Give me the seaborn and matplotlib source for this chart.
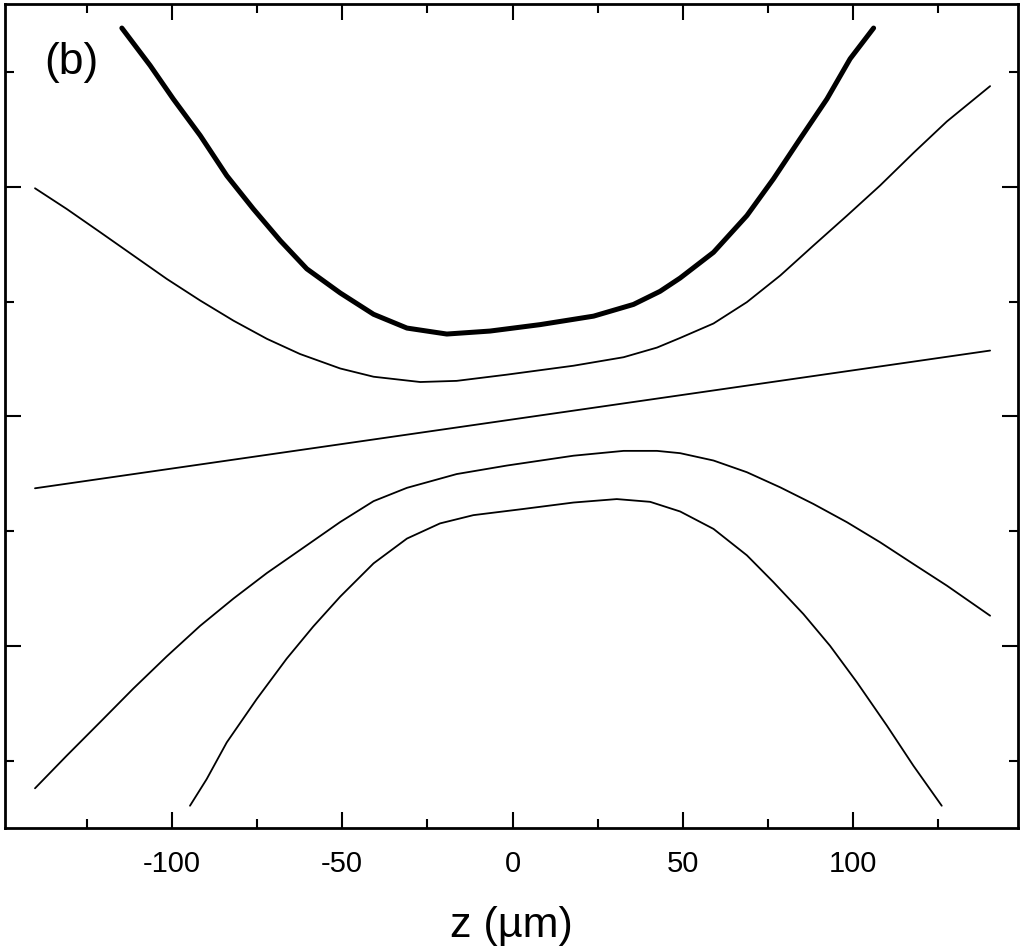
import matplotlib
matplotlib.use("Agg")
import matplotlib.pyplot as plt
import numpy as np
import pandas as pd
import seaborn as sns
from matplotlib.ticker import MultipleLocator

# values (z in um, y in arbitrary units)
thick_z = [-114.7, -106.4, -99.6, -91.7, -83.9, -76.1, -68.2, -60.4, -50.6, -40.8,
           -31.0, -19.3, -6.6, 8.1, 23.8, 35.5, 43.3, 49.2, 59.0, 68.8,
           76.6, 84.4, 92.3, 99.1, 106.0]
thick_y = [1.692, 1.529, 1.383, 1.224, 1.049, 0.904, 0.766, 0.643, 0.538, 0.445,
           0.385, 0.359, 0.372, 0.400, 0.437, 0.488, 0.545, 0.603, 0.715, 0.875,
           1.035, 1.209, 1.383, 1.558, 1.692]

upper_z = [-140.2, -130.9, -121.1, -111.3, -101.5, -91.7, -81.9, -72.1, -62.4, -50.6,
           -40.8, -27.1, -16.4, -1.7, 17.9, 32.6, 42.4, 49.2, 59.0, 68.8,
           78.6, 88.3, 98.2, 107.9, 117.7, 127.5, 140.2]
upper_y = [0.994, 0.904, 0.803, 0.701, 0.599, 0.505, 0.417, 0.338, 0.272, 0.209,
           0.173, 0.150, 0.155, 0.182, 0.221, 0.258, 0.300, 0.342, 0.405, 0.498,
           0.614, 0.744, 0.875, 1.006, 1.148, 1.285, 1.439]

axis_z = [-140.2, 0.0, 140.2]
axis_y = [-0.313, -0.013, 0.287]

lower_z = [-140.2, -130.9, -121.1, -111.3, -101.5, -91.7, -81.9, -72.1, -62.4, -50.6,
           -40.8, -31.0, -16.4, -1.7, 17.9, 32.6, 42.4, 49.2, 59.0, 68.8,
           78.6, 88.3, 98.2, 107.9, 117.7, 127.5, 140.2]
lower_y = [-1.620, -1.478, -1.332, -1.185, -1.045, -0.912, -0.793, -0.682, -0.582, -0.460,
           -0.369, -0.311, -0.251, -0.214, -0.171, -0.150, -0.150, -0.160, -0.192, -0.243,
           -0.309, -0.381, -0.461, -0.548, -0.643, -0.737, -0.868]

bottom_z = [-94.7, -89.8, -83.9, -75.1, -66.3, -58.5, -50.6, -40.8, -31.0, -21.3,
            -11.5, 3.2, 17.9, 30.6, 40.4, 49.2, 59.0, 68.8, 76.6, 85.4,
            93.2, 101.1, 109.9, 117.7, 126.0]
bottom_y = [-1.696, -1.580, -1.420, -1.231, -1.055, -0.915, -0.785, -0.640, -0.532, -0.466,
            -0.430, -0.403, -0.375, -0.360, -0.372, -0.414, -0.490, -0.605, -0.722, -0.861,
            -0.999, -1.158, -1.347, -1.522, -1.696]

x_ticks = [-100, -50, 0, 50, 100]

sns.set_theme(style="ticks")
plt.rcParams['font.family'] = ['Liberation Sans', 'DejaVu Sans']
plt.rcParams['text.color'] = 'black'
plt.rcParams['axes.labelcolor'] = 'black'
plt.rcParams['lines.solid_joinstyle'] = 'round'

fig = plt.figure(figsize=(10.25, 9.53), dpi=100)
ax = fig.add_axes([0.0049, 0.1301, 0.9883, 0.8647])

curves = [
    (thick_z, thick_y, 3.6),
    (upper_z, upper_y, 1.3),
    (axis_z, axis_y, 1.3),
    (lower_z, lower_y, 1.3),
    (bottom_z, bottom_y, 1.3),
]
for zs, ys, lw in curves:
    df = pd.DataFrame({'z': zs, 'y': ys})
    sns.lineplot(data=df, x='z', y='y', sort=False, estimator=None,
                 color='black', linewidth=lw, ax=ax)

ax.set_xlim(-149, 148.4)
ax.set_ylim(-1.793, 1.797)

ax.set_xticks(x_ticks)
ax.set_xticklabels([str(t) for t in x_ticks])
ax.xaxis.set_minor_locator(MultipleLocator(25))
ax.set_yticks([-1, 0, 1])
ax.yaxis.set_minor_locator(MultipleLocator(0.5))
ax.set_yticklabels([])

ax.tick_params(which='both', direction='in', top=True, right=True,
               width=1.5, colors='black')
ax.tick_params(which='major', length=11.5, labelsize=21, pad=15)
ax.tick_params(which='minor', length=6.5)
for s in ax.spines.values():
    s.set_linewidth(2.0)
    s.set_color('black')
    s.set_visible(True)

ax.set_xlabel('z (µm)', fontsize=31, labelpad=20)
ax.set_ylabel('')
ax.text(0.039, 0.93, '(b)', transform=ax.transAxes, fontsize=32,
        ha='left', va='center')

fig.savefig('out.png', dpi=100)
